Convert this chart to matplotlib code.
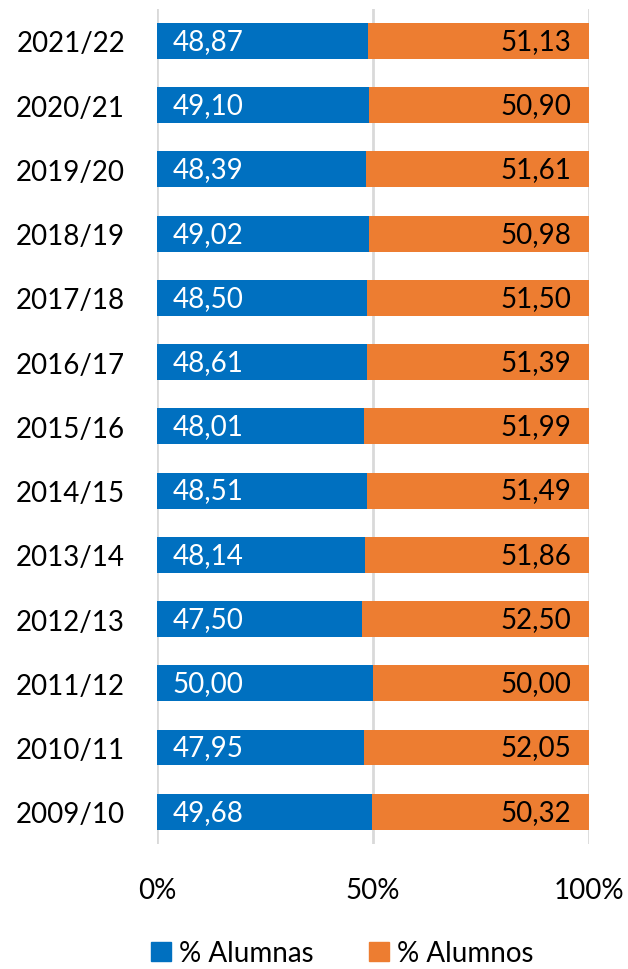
import matplotlib
matplotlib.use("Agg")
import matplotlib.pyplot as plt
from matplotlib.patches import Patch

# data, bottom to top as drawn
years = ["2009/10", "2010/11", "2011/12", "2012/13", "2013/14", "2014/15", "2015/16",
         "2016/17", "2017/18", "2018/19", "2019/20", "2020/21", "2021/22"]
alumnas = [49.68, 47.95, 50.00, 47.50, 48.14, 48.51, 48.01, 48.61, 48.50, 49.02, 48.39, 49.10, 48.87]
alumnos = [50.32, 52.05, 50.00, 52.50, 51.86, 51.49, 51.99, 51.39, 51.50, 50.98, 51.61, 50.90, 51.13]

blue = "#0070C0"
orange = "#ED7D31"
fs = 20

plt.rcParams['font.family'] = ['Lato', 'DejaVu Sans']

fig = plt.figure(figsize=(6.28, 9.70), dpi=100)
ax = fig.add_axes([0.25, 0.129, 0.688, 0.861])

y = range(len(years))
ax.barh(y, alumnas, height=0.56, color=blue, zorder=2)
ax.barh(y, alumnos, left=alumnas, height=0.56, color=orange, zorder=2)

fmt = lambda v: f"{v:.2f}".replace(".", ",")
for i in y:
    ax.annotate(fmt(alumnas[i]), (0, i), xytext=(11, 0), textcoords="offset points",
                ha="left", va="center", color="white", fontsize=fs, zorder=3)
    ax.annotate(fmt(alumnos[i]), (100, i), xytext=(-13, 0), textcoords="offset points",
                ha="right", va="center", color="black", fontsize=fs, zorder=3)

ax.set_xlim(0, 100)
ax.set_ylim(-0.5, len(years) - 0.5)
ax.set_xticks([0, 50, 100])
ax.set_xticklabels(["0%", "50%", "100%"])
ax.set_yticks(list(y))
ax.set_yticklabels(years)
ax.tick_params(length=0, labelsize=fs, colors="black")
ax.tick_params(axis="x", pad=24)
ax.tick_params(axis="y", pad=23)
ax.xaxis.grid(True, color="#d9d9d9", linewidth=2, zorder=0)
ax.set_axisbelow(True)
for s in ax.spines.values():
    s.set_visible(False)

handles = [Patch(color=blue, label="% Alumnas"), Patch(color=orange, label="% Alumnos")]
fig.legend(handles=handles, loc="center", bbox_to_anchor=(0.545, 0.016), ncol=2,
           frameon=False, fontsize=fs, handlelength=0.7, handleheight=0.7,
           handletextpad=0.3, columnspacing=2.0)

fig.savefig("out.png", dpi=100)
